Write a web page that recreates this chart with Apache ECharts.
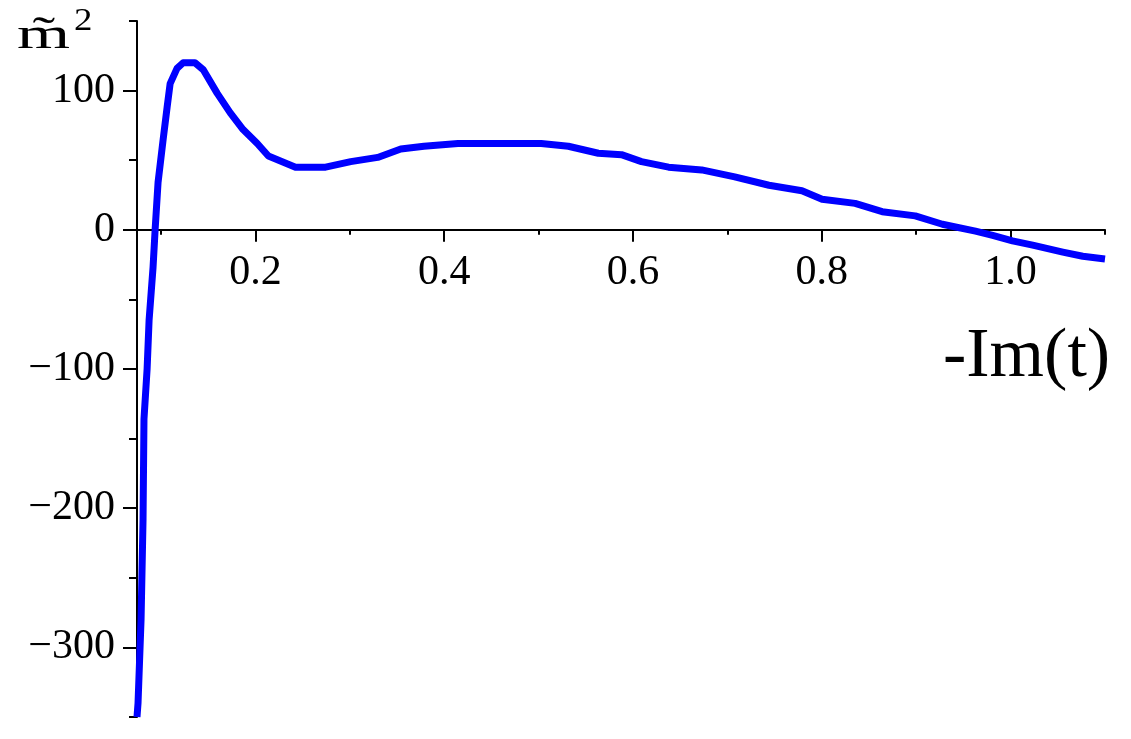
<!DOCTYPE html>
<html>
<head>
<meta charset="utf-8">
<script src="https://cdn.jsdelivr.net/npm/echarts@6/dist/echarts.min.js"></script>
<style>
html,body{margin:0;padding:0;background:#fff;}
#chart{width:1131px;height:739px;}
</style>
</head>
<body>
<div id="chart"></div>
<script>
// -Im(t) values
const xValues = [0.0746, 0.0757, 0.0789, 0.081, 0.082, 0.0853, 0.0874, 0.0916, 0.0938, 0.0969, 0.1023, 0.1065, 0.1097, 0.117, 0.1235, 0.136, 0.1448, 0.1596, 0.1734, 0.187, 0.202, 0.2138, 0.2425, 0.2744, 0.301, 0.3296, 0.354, 0.3785, 0.4146, 0.5028, 0.5315, 0.5633, 0.5878, 0.609, 0.6377, 0.6728, 0.7078, 0.744, 0.779, 0.8003, 0.8353, 0.864, 0.899, 0.9278, 0.9628, 0.981, 1.002, 1.0234, 1.0553, 1.0765, 1.1];
// m~^2 values
const yValues = [-350, -340, -280, -208, -136, -100, -65, -27, 0, 34, 65, 88, 105, 116, 120, 120, 115, 98, 84, 72, 62, 53, 45, 45, 49, 52, 58, 60, 62, 62, 60, 55, 54, 49, 45, 43, 38, 32, 28, 22, 19, 13, 10, 4, -1, -4, -8, -11, -16, -19, -21];
const xMajorTicks = [0.2, 0.4, 0.6, 0.8, 1.0];
const xMinorTicks = [0.1, 0.3, 0.5, 0.7, 0.9, 1.1];
const yMajorTicks = [-300, -200, -100, 0, 100];
const yMinorTicks = [-350, -250, -150, -50, 50, 150];
const xTitle = '-Im(t)';
const yTitle = 'm\u0303';
const yTitleSup = '2';

const FONT = 'Liberation Serif';
const chart = echarts.init(document.getElementById('chart'));
const axisLineStyle = {color: '#000', width: 2};
const xMin = 0.0746, xMax = 1.1, yMin = -350, yMax = 150;
const GRID_LEFT = 137, GRID_RIGHT = 26, GRID_TOP = 21, GRID_BOTTOM = 22;
// height of the part of the plot above y = 0 (used to place x labels under the zero line)
const upperHeight = Math.round((739 - GRID_TOP - GRID_BOTTOM) * (yMax / (yMax - yMin)));

chart.setOption({
  animation: false,
  backgroundColor: '#fff',
  grid: [
    {left: GRID_LEFT, right: GRID_RIGHT, top: GRID_TOP, bottom: GRID_BOTTOM, containLabel: false, outerBoundsMode: 'none'},
    {left: GRID_LEFT, right: GRID_RIGHT, top: GRID_TOP, height: upperHeight, containLabel: false, outerBoundsMode: 'none'}
  ],
  xAxis: [
    {
      gridIndex: 0, type: 'value', min: xMin, max: xMax, position: 'bottom',
      axisLine: {show: true, onZero: true, onZeroAxisIndex: 0, lineStyle: axisLineStyle},
      axisTick: {show: true, customValues: xMajorTicks, length: 12, lineStyle: {color: '#000', width: 2}},
      axisLabel: {show: false},
      splitLine: {show: false}
    },
    {
      gridIndex: 0, type: 'value', min: xMin, max: xMax, position: 'bottom',
      axisLine: {show: false, onZero: true, onZeroAxisIndex: 0},
      axisTick: {show: true, customValues: xMinorTicks, length: 5, lineStyle: {color: '#000', width: 2}},
      axisLabel: {show: false},
      splitLine: {show: false}
    },
    {
      gridIndex: 1, type: 'value', min: xMin, max: xMax, position: 'bottom',
      axisLine: {show: false, onZero: false},
      axisTick: {show: false},
      axisLabel: {show: true, customValues: xMajorTicks, margin: 22,
        formatter: v => v.toFixed(1),
        fontFamily: FONT, fontSize: 42, color: '#000'},
      splitLine: {show: false}
    }
  ],
  yAxis: [
    {
      gridIndex: 0, type: 'value', min: yMin, max: yMax, position: 'left',
      axisLine: {show: true, onZero: false, lineStyle: axisLineStyle},
      axisTick: {show: true, customValues: yMajorTicks, length: 14, lineStyle: {color: '#000', width: 2}},
      axisLabel: {show: true, customValues: yMajorTicks, margin: 22,
        formatter: v => (v < 0 ? '\u2212' + Math.abs(v) : String(v)),
        fontFamily: FONT, fontSize: 42, color: '#000'},
      splitLine: {show: false}
    },
    {
      gridIndex: 0, type: 'value', min: yMin, max: yMax, position: 'left',
      axisLine: {show: false, onZero: false},
      axisTick: {show: true, customValues: yMinorTicks, length: 8, lineStyle: {color: '#000', width: 2}},
      axisLabel: {show: false},
      splitLine: {show: false}
    },
    {
      gridIndex: 1, type: 'value', min: 0, max: yMax, show: false
    }
  ],
  series: [{
    type: 'line',
    xAxisIndex: 0, yAxisIndex: 0,
    data: xValues.map((x, i) => [x, yValues[i]]),
    showSymbol: false,
    smooth: false,
    clip: true,
    lineStyle: {color: '#0000ff', width: 7, join: 'round', cap: 'butt'}
  }],
  graphic: [
    {type: 'text', x: 943, y: 358,
      style: {text: xTitle, font: '70px "Liberation Serif"', fill: '#000', align: 'left', verticalAlign: 'middle'}},
    {type: 'text', x: 17, y: 36, scaleX: 1.55,
      style: {text: yTitle, font: '44px "Liberation Serif"', fill: '#000', align: 'left', verticalAlign: 'middle'}},
    {type: 'text', x: 74, y: 22, scaleX: 1.15,
      style: {text: yTitleSup, font: '32px "Liberation Serif"', fill: '#000', align: 'left', verticalAlign: 'middle'}}
  ]
});
</script>
</body>
</html>
